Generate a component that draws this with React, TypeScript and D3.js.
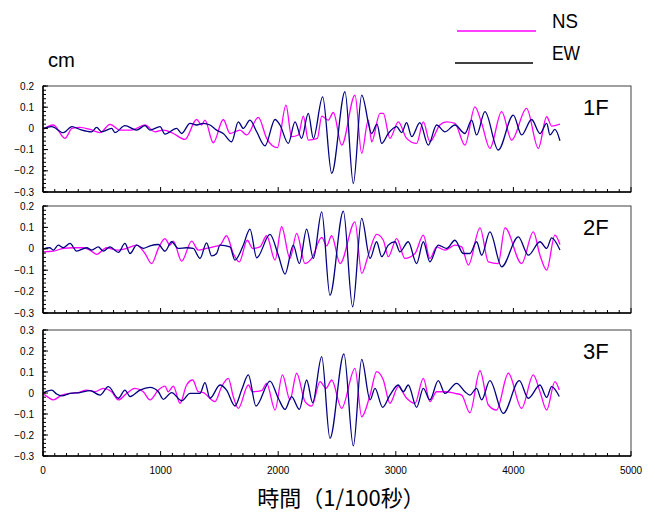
import React from "react";
import * as d3 from "d3";

type P = [number, number];

const xTicks = [0, 1000, 2000, 3000, 4000, 5000];
const floorLabels = ["1F", "2F", "3F"];
const yDomains: [number, number][] = [[-0.3, 0.2], [-0.3, 0.2], [-0.3, 0.3]];
const legendNames = ["NS", "EW"];

// 1F
const ns1: P[] = [[0,-0.005],[88,0.016],[187,-0.047],[246,0],[315,0.005],[400,-0.005],[485,-0.02],[570,0.019],[655,-0.008],[754,-0.008],[867,0.016],[952,-0.016],[1023,-0.008],[1108,-0.024],[1207,-0.052],[1306,0.042],[1349,0.016],[1377,0.039],[1448,-0.068],[1533,0.042],[1590,-0.024],[1675,-0.008],[1732,-0.031],[1831,0.052],[1902,-0.047],[1993,-0.091],[2066,0.11],[2114,-0.039],[2171,-0.031],[2214,0.058],[2256,-0.055],[2333,-0.047],[2370,0.058],[2426,0.039],[2469,0.075],[2540,-0.079],[2653,0.157],[2710,-0.118],[2766,0.039],[2795,-0.063],[2865,0.071],[2894,0.071],[2950,-0.047],[3021,0.031],[3092,-0.047],[3177,-0.071],[3234,0.031],[3290,-0.063],[3375,0.016],[3432,0.031],[3503,0.024],[3588,-0.079],[3673,0.102],[3730,0.024],[3800,-0.094],[3900,0.079],[3985,-0.055],[4112,0.094],[4212,-0.094],[4283,0.055],[4325,0.011],[4396,0.02]];
const ew1: P[] = [[0,0],[74,0.008],[173,-0.02],[246,0.008],[315,-0.005],[414,-0.016],[456,0.005],[499,-0.016],[584,0],[612,-0.02],[697,0.013],[796,-0.008],[867,0.013],[910,-0.008],[995,0.008],[1037,-0.027],[1136,0],[1179,-0.024],[1250,0.024],[1306,0.016],[1363,0.024],[1420,0.016],[1476,-0.008],[1533,-0.024],[1604,-0.063],[1661,0.031],[1703,0],[1760,0.039],[1817,-0.016],[1888,-0.082],[1973,0.042],[2015,0.016],[2086,-0.071],[2143,0.031],[2199,-0.047],[2256,0.071],[2299,-0.047],[2378,0.149],[2455,-0.212],[2568,0.173],[2639,-0.26],[2710,0.157],[2795,-0.024],[2840,0.02],[2880,-0.071],[2936,-0.024],[3007,0.008],[3050,-0.02],[3092,0.027],[3135,-0.039],[3205,0.027],[3276,-0.079],[3347,0.016],[3418,-0.016],[3503,0.016],[3588,-0.024],[3645,0.039],[3687,-0.031],[3758,0.079],[3871,-0.102],[3999,0.063],[4070,-0.031],[4155,0.042],[4226,-0.024],[4283,0.024],[4311,-0.031],[4353,-0.005],[4396,-0.058]];

// 2F
const ns2: P[] = [[0,-0.014],[88,-0.011],[173,0.002],[258,0.005],[343,0.005],[400,-0.006],[456,-0.026],[541,0.005],[626,-0.006],[711,0.002],[796,0.017],[867,-0.022],[924,-0.069],[981,0.002],[1037,0.048],[1079,0.017],[1108,0.036],[1179,-0.058],[1264,0.036],[1320,-0.006],[1391,0.002],[1448,0.009],[1505,0.017],[1561,0.061],[1618,-0.022],[1669,-0.061],[1737,0.04],[1782,0.002],[1845,0.009],[1902,0.061],[1973,-0.053],[2029,0.103],[2100,-0.045],[2157,0.072],[2228,-0.069],[2285,-0.045],[2370,0.053],[2412,0.014],[2455,0.061],[2526,-0.069],[2653,0.126],[2710,-0.115],[2766,-0.03],[2837,0.067],[2894,0.04],[2936,-0.037],[3007,0.048],[3078,-0.045],[3163,-0.022],[3234,0.064],[3290,-0.045],[3347,0.009],[3418,-0.006],[3503,0.017],[3560,0.009],[3617,-0.076],[3716,0.098],[3787,-0.061],[3871,-0.069],[3928,0.098],[4070,-0.069],[4169,0.079],[4226,-0.03],[4283,-0.1],[4353,0.064],[4396,0.02]];
const ew2: P[] = [[0,0],[57,0.005],[88,-0.006],[130,0.017],[173,0.005],[230,0.025],[286,-0.011],[371,0.005],[414,-0.006],[470,0.009],[513,-0.011],[570,0.009],[641,-0.017],[697,0.025],[740,-0.022],[796,0.017],[853,0.002],[910,0.014],[981,0.02],[1037,-0.011],[1094,0.033],[1150,0.002],[1221,0.005],[1278,0.002],[1335,-0.045],[1391,0.028],[1434,-0.033],[1476,-0.022],[1505,0.017],[1590,0.009],[1632,-0.053],[1703,0.017],[1760,0.092],[1817,-0.042],[1930,0.067],[2001,-0.03],[2058,-0.118],[2128,0.017],[2180,-0.069],[2242,0.092],[2299,-0.045],[2370,0.173],[2440,-0.217],[2554,0.176],[2633,-0.271],[2710,0.142],[2781,-0.045],[2837,0.033],[2880,-0.037],[2936,0.017],[2993,0.033],[3035,-0.014],[3106,0.033],[3177,-0.069],[3234,0.033],[3290,-0.061],[3361,0.017],[3432,0.002],[3503,0.04],[3574,-0.022],[3630,-0.022],[3687,0.033],[3730,-0.03],[3800,0.079],[3900,-0.084],[4042,0.056],[4127,-0.03],[4226,0.033],[4283,0.002],[4325,0.051],[4396,-0.006]];

// 3F
const ns3: P[] = [[0,-0.002],[45,-0.021],[88,-0.033],[159,-0.01],[230,-0.002],[300,0.002],[371,0.014],[442,0.006],[513,0.022],[584,0.006],[641,-0.033],[711,-0.002],[782,0.022],[853,0.006],[910,-0.033],[981,0.014],[1037,0.033],[1065,0.006],[1108,0.033],[1165,-0.049],[1221,0.038],[1273,0.062],[1320,0.006],[1363,0.002],[1462,-0.041],[1519,0.03],[1576,0.07],[1618,-0.017],[1661,-0.073],[1746,0.038],[1782,0.006],[1859,0.011],[1902,0.046],[1973,-0.081],[2036,0.086],[2100,-0.033],[2157,0.094],[2228,-0.041],[2285,-0.062],[2356,0.054],[2406,0.022],[2455,0.062],[2539,-0.073],[2653,0.117],[2710,-0.113],[2781,-0.01],[2837,0.102],[2894,0.062],[2950,-0.049],[3021,0.03],[3092,-0.025],[3163,-0.049],[3234,0.07],[3290,-0.041],[3347,0.006],[3418,0.006],[3503,-0.002],[3560,-0.01],[3630,-0.094],[3716,0.106],[3787,-0.057],[3857,-0.081],[3957,0.094],[4070,-0.073],[4169,0.086],[4226,0.006],[4283,-0.081],[4353,0.054],[4390,0.014]];
const ew3: P[] = [[0,0],[74,0.014],[116,-0.005],[159,-0.014],[230,-0.002],[315,0.002],[400,0.011],[485,-0.01],[555,0.03],[641,-0.025],[697,0.014],[740,-0.017],[825,0.014],[910,0.027],[981,0.006],[1023,-0.03],[1094,0.002],[1179,-0.037],[1250,-0.002],[1335,-0.002],[1377,0.049],[1420,-0.025],[1505,0.038],[1561,0.014],[1632,-0.062],[1689,0.014],[1746,0.086],[1811,-0.062],[1930,0.057],[2001,-0.025],[2058,-0.078],[2114,-0.017],[2180,-0.078],[2242,0.062],[2293,-0.046],[2370,0.173],[2440,-0.216],[2559,0.186],[2639,-0.252],[2710,0.16],[2781,-0.033],[2823,0.022],[2888,-0.068],[2950,-0.01],[3021,0.038],[3064,0.006],[3106,0.038],[3177,-0.068],[3234,0.022],[3290,-0.033],[3361,0.059],[3418,-0.002],[3517,0.046],[3588,0.006],[3630,-0.01],[3687,0.022],[3730,-0.033],[3800,0.059],[3914,-0.097],[4050,0.059],[4127,-0.025],[4226,0.038],[4283,-0.021],[4325,0.03],[4390,-0.017]];

const nsSeries = [ns1, ns2, ns3];
const ewSeries = [ew1, ew2, ew3];

const NS_COLOR = "#FF00FF";
const EW_COLOR = "#000080";
const FONT = "'Liberation Sans', Arial, sans-serif";

const X0 = 43;
const X1 = 631;
const panels = [
  { top: 86, bottom: 192 },
  { top: 206, bottom: 313 },
  { top: 330, bottom: 456 },
];

export default function App() {
  const x = d3.scaleLinear().domain([0, 5000]).range([X0, X1]);
  const fmt = (v: number) => (Math.abs(v) < 1e-9 ? "0" : d3.format(".1f")(v));

  return (
    <svg
      width={655}
      height={516}
      style={{ position: "absolute", left: 0, top: 0, background: "#fff" }}
    >
      <rect x={0} y={0} width={655} height={516} fill="#fff" />
      {/* unit label */}
      <text x={48} y={67} fontFamily={FONT} fontSize={20} fill="#000" textLength={27} lengthAdjust="spacingAndGlyphs">cm</text>
      {/* legend */}
      <line x1={457} x2={536} y1={31} y2={31} stroke={NS_COLOR} strokeWidth={1.5} />
      <line x1={455} x2={533} y1={63} y2={63} stroke="#000" strokeWidth={1.5} />
      <text x={552} y={28} fontFamily={FONT} fontSize={21} textLength={26} lengthAdjust="spacingAndGlyphs">{legendNames[0]}</text>
      <text x={552} y={60} fontFamily={FONT} fontSize={21} textLength={28} lengthAdjust="spacingAndGlyphs">{legendNames[1]}</text>

      {panels.map((p, i) => {
        const [d0, d1] = yDomains[i];
        const y = d3.scaleLinear().domain([d0, d1]).range([p.bottom, p.top]);
        const line = d3
          .line<P>()
          .x((d) => x(d[0]))
          .y((d) => y(d[1]))
          .curve(d3.curveMonotoneX);
        const nMinor = Math.round((d1 - d0) / 0.02);
        const minorY = d3.range(nMinor + 1).map((k) => d0 + k * 0.02);
        const majorY = d3.range(Math.round((d1 - d0) / 0.1) + 1).map((k) => +(d0 + k * 0.1).toFixed(2));
        const minorX = d3.range(0, 5001, 100);
        const clipId = `clip${i}`;
        return (
          <g key={i}>
            <defs>
              <clipPath id={clipId}>
                <rect x={X0} y={p.top} width={X1 - X0} height={p.bottom - p.top} />
              </clipPath>
            </defs>
            <g clipPath={`url(#${clipId})`}>
              <path d={line(nsSeries[i]) || ""} fill="none" stroke={NS_COLOR} strokeWidth={1.3} />
              <path d={line(ewSeries[i]) || ""} fill="none" stroke={EW_COLOR} strokeWidth={1.3} />
            </g>
            {/* frame */}
            <rect x={X0} y={p.top} width={X1 - X0} height={p.bottom - p.top} fill="none" stroke="#404040" strokeWidth={1} />
            <line x1={X0} x2={X0} y1={p.top} y2={p.bottom} stroke="#000" strokeWidth={1.5} />
            <line x1={X0} x2={X1} y1={p.bottom} y2={p.bottom} stroke="#000" strokeWidth={1.5} />
            {/* y ticks */}
            {minorY.map((v, k) => (
              <line key={`ym${k}`} x1={X0} x2={X0 + 3} y1={y(v)} y2={y(v)} stroke="#000" strokeWidth={1} />
            ))}
            {majorY.map((v, k) => (
              <g key={`yM${k}`}>
                <line x1={X0} x2={X0 + 5} y1={y(v)} y2={y(v)} stroke="#000" strokeWidth={1} />
                <text x={34} y={y(v)} dy="0.35em" textAnchor="end" fontFamily={FONT} fontSize={10}>
                  {fmt(v)}
                </text>
              </g>
            ))}
            {/* x ticks */}
            {minorX.map((t, k) => (
              <line
                key={`xm${k}`}
                x1={x(t)}
                x2={x(t)}
                y1={p.bottom}
                y2={p.bottom - (t % 1000 === 0 ? 5 : 3)}
                stroke="#000"
                strokeWidth={1}
              />
            ))}
            <text x={583} y={p.top + 29} fontFamily={FONT} fontSize={22}>
              {floorLabels[i]}
            </text>
          </g>
        );
      })}

      {xTicks.map((t) => (
        <text key={t} x={x(t)} y={474} textAnchor="middle" fontFamily={FONT} fontSize={10}>
          {t}
        </text>
      ))}
      <text x={341} y={506} textAnchor="middle" fontFamily="'Noto Sans CJK JP', sans-serif" fontSize={22}>
        時間（1/100秒）
      </text>
    </svg>
  );
}
